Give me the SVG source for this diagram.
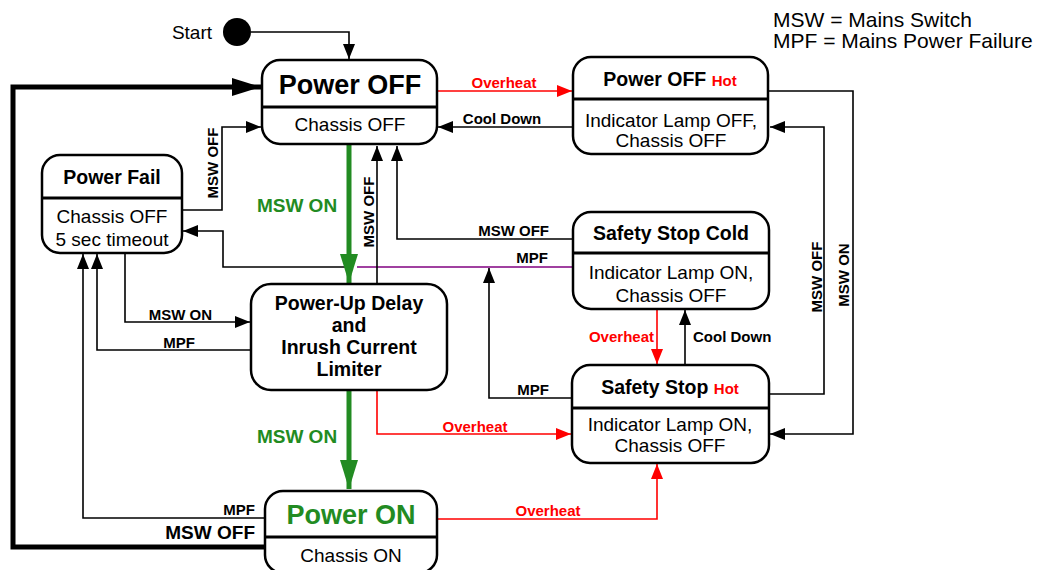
<svg xmlns="http://www.w3.org/2000/svg" width="1042" height="570" viewBox="0 0 1042 570">
<style>
text{font-family:"Liberation Sans",Arial,sans-serif;}
.box{fill:#fff;stroke:#000;stroke-width:2.5;}
.div{stroke:#000;stroke-width:3;}
.t{font-weight:bold;font-size:19.5px;text-anchor:middle;}
.big{font-size:27px;}
.b{font-size:19px;text-anchor:middle;}
.lbl{font-weight:bold;font-size:15px;}
.lg{font-size:19px;}
.hot{fill:#f00;font-size:15px;}
.c{fill:none;stroke:#000;stroke-width:1.6;}
.r{fill:none;stroke:#f00;stroke-width:1.6;}
.red{fill:#f00;}
.grn{fill:#228b22;}
.mid{text-anchor:middle;}
.end{text-anchor:end;}
</style>
<defs>
<marker id="a" markerUnits="userSpaceOnUse" markerWidth="16" markerHeight="12" refX="15" refY="6" orient="auto"><path d="M0,0 L15,6 L0,12 Z" fill="#000"/></marker>
<marker id="ar" markerUnits="userSpaceOnUse" markerWidth="16" markerHeight="12" refX="15" refY="6" orient="auto"><path d="M0,0 L15,6 L0,12 Z" fill="#f00"/></marker>
<marker id="ag" markerUnits="userSpaceOnUse" markerWidth="30" markerHeight="18" refX="29" refY="9" orient="auto"><path d="M0,0 L29,9 L0,18 Z" fill="#228b22"/></marker>
<marker id="ak" markerUnits="userSpaceOnUse" markerWidth="30" markerHeight="18" refX="29" refY="9" orient="auto"><path d="M0,0 L29,9 L0,18 Z" fill="#000"/></marker>
</defs>
<g id="connectors">
<path class="c" d="M251,32 H349 V59" marker-end="url(#a)"/>
<path fill="none" stroke="#000" stroke-width="5" d="M265,547 H13 V87 H261" marker-end="url(#ak)"/>
<path class="r" d="M437,91 H572" marker-end="url(#ar)"/>
<path class="c" d="M573,127 H438" marker-end="url(#a)"/>
<path class="c" d="M182,210 H222 V127 H261" marker-end="url(#a)"/>
<path class="c" d="M345,267 H223 V231 H183" marker-end="url(#a)"/>
<path fill="none" stroke="#800080" stroke-width="1.6" d="M572,267 H357"/>
<path class="c" d="M125,253 V322 H250" marker-end="url(#a)"/>
<path class="c" d="M251,350 H97 V254" marker-end="url(#a)"/>
<path class="c" d="M265,518 H83 V254" marker-end="url(#a)"/>
<path fill="none" stroke="#228b22" stroke-width="5" d="M349,145 V283" marker-end="url(#ag)"/>
<path fill="none" stroke="#228b22" stroke-width="5" d="M349,390 V489" marker-end="url(#ag)"/>
<path class="c" d="M377,284 V146" marker-end="url(#a)"/>
<path class="c" d="M573,239 H397 V146" marker-end="url(#a)"/>
<path class="r" d="M657,309 V364" marker-end="url(#ar)"/>
<path class="c" d="M685,365 V310" marker-end="url(#a)"/>
<path class="c" d="M768,91 H853 V434 H770" marker-end="url(#a)"/>
<path class="c" d="M769,394 H824 V127 H770" marker-end="url(#a)"/>
<path class="c" d="M572,398 H489 V268" marker-end="url(#a)"/>
<path class="r" d="M377,390 V434 H571" marker-end="url(#ar)"/>
<path class="r" d="M437,519 H657 V464" marker-end="url(#ar)"/>
<text class="lbl red mid" x="504" y="88">Overheat</text>
<text class="lbl mid" x="502" y="124">Cool Down</text>
<text class="lbl mid" transform="translate(218,163) rotate(-90)">MSW OFF</text>
<text class="lbl mid" transform="translate(374,212) rotate(-90)">MSW OFF</text>
<text class="lbl end" x="549" y="236">MSW OFF</text>
<text class="lbl end" x="548" y="263">MPF</text>
<text class="lbl end" x="212" y="320">MSW ON</text>
<text class="lbl end" x="195" y="348">MPF</text>
<text class="lbl grn mid" x="297" y="212" style="font-size:19px">MSW ON</text>
<text class="lbl grn mid" x="297" y="443" style="font-size:19px">MSW ON</text>
<text class="lbl red end" x="654" y="342">Overheat</text>
<text class="lbl" x="693" y="342">Cool Down</text>
<text class="lbl mid" transform="translate(822,277) rotate(-90)">MSW OFF</text>
<text class="lbl mid" transform="translate(849,275) rotate(-90)">MSW ON</text>
<text class="lbl end" x="549" y="395">MPF</text>
<text class="lbl red mid" x="475" y="432">Overheat</text>
<text class="lbl red mid" x="548" y="516">Overheat</text>
<text class="lbl end" x="255" y="515">MPF</text>
<text class="lbl end" x="255" y="539" style="font-size:19px">MSW OFF</text>
</g>
<g id="start">
<circle cx="237" cy="32" r="14" fill="#000"/>
<text class="lg end" x="212" y="39">Start</text>
</g>
<g id="legend">
<text x="773" y="27" style="font-size:21px">MSW = Mains Switch</text>
<text x="773" y="48" style="font-size:21px">MPF = Mains Power Failure</text>
</g>
<g id="power-off">
<rect class="box" x="262" y="60" width="175" height="84" rx="18"/>
<line class="div" x1="262" y1="107" x2="437" y2="107"/>
<text class="t big" x="350" y="94">Power OFF</text>
<text class="b" x="350" y="131">Chassis OFF</text>
</g>
<g id="power-off-hot">
<rect class="box" x="573" y="57" width="195" height="97" rx="18"/>
<line class="div" x1="573" y1="99" x2="768" y2="99"/>
<text class="t" x="670" y="86">Power OFF <tspan class="hot">Hot</tspan></text>
<text class="b" x="671" y="127">Indicator Lamp OFF,</text>
<text class="b" x="671" y="147">Chassis OFF</text>
</g>
<g id="power-fail">
<rect class="box" x="42" y="155" width="140" height="98" rx="18"/>
<line class="div" x1="42" y1="198" x2="182" y2="198"/>
<text class="t" x="112" y="184">Power Fail</text>
<text class="b" x="112" y="223">Chassis OFF</text>
<text class="b" x="112" y="246">5 sec timeout</text>
</g>
<g id="power-up-delay">
<rect class="box" x="251" y="284" width="196" height="106" rx="20"/>
<text class="t" x="349" y="310">Power-Up Delay</text>
<text class="t" x="349" y="332">and</text>
<text class="t" x="349" y="354">Inrush Current</text>
<text class="t" x="349" y="376">Limiter</text>
</g>
<g id="safety-stop-cold">
<rect class="box" x="573" y="212" width="196" height="97" rx="18"/>
<line class="div" x1="573" y1="253" x2="769" y2="253"/>
<text class="t" x="671" y="240">Safety Stop Cold</text>
<text class="b" x="671" y="279">Indicator Lamp ON,</text>
<text class="b" x="671" y="302">Chassis OFF</text>
</g>
<g id="safety-stop-hot">
<rect class="box" x="572" y="365" width="197" height="98" rx="18"/>
<line class="div" x1="572" y1="408" x2="769" y2="408"/>
<text class="t" x="670" y="394">Safety Stop <tspan class="hot">Hot</tspan></text>
<text class="b" x="670" y="431">Indicator Lamp ON,</text>
<text class="b" x="670" y="452">Chassis OFF</text>
</g>
<g id="power-on">
<rect class="box" x="265" y="491" width="172" height="82" rx="18"/>
<line class="div" x1="265" y1="537" x2="437" y2="537"/>
<text class="t big grn" x="351" y="524">Power ON</text>
<text class="b" x="351" y="562">Chassis ON</text>
</g>
</svg>
